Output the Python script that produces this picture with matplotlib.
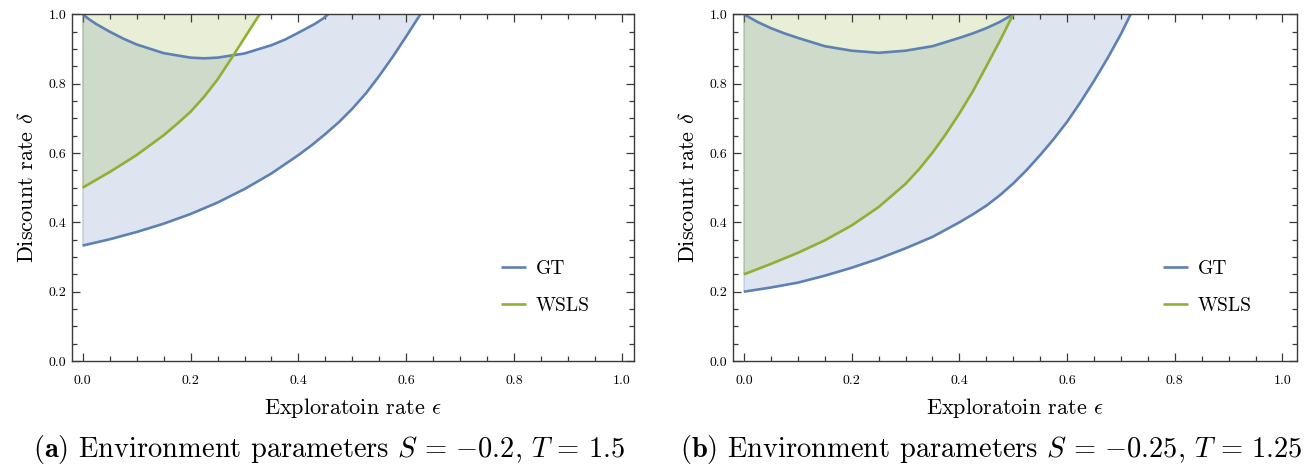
import numpy as np
import matplotlib
matplotlib.use('Agg')
import matplotlib.pyplot as plt
from matplotlib.ticker import MultipleLocator

matplotlib.rcParams.update({
    'font.family': 'cmr10',
    'mathtext.fontset': 'cm',
    'axes.formatter.use_mathtext': True,
    'axes.unicode_minus': False,
})

# panel (a): S=-0.2, T=1.5
eps_gt_lo_a = [0, 0.05, 0.1, 0.15, 0.2, 0.25, 0.3, 0.35, 0.4, 0.425, 0.45, 0.475, 0.5, 0.525, 0.55, 0.575, 0.6, 0.626]
gt_lo_a = [0.333, 0.351, 0.372, 0.396, 0.424, 0.457, 0.496, 0.541, 0.594, 0.623, 0.655, 0.689, 0.728, 0.772, 0.823, 0.878, 0.937, 1.0]
eps_gt_hi_a = [0, 0.0125, 0.025, 0.05, 0.075, 0.1, 0.15, 0.2, 0.225, 0.25, 0.3, 0.35, 0.375, 0.4, 0.43, 0.445, 0.455]
gt_hi_a = [1.0, 0.985, 0.972, 0.95, 0.93, 0.913, 0.888, 0.875, 0.873, 0.875, 0.887, 0.911, 0.927, 0.947, 0.972, 0.987, 1.0]
eps_wsls_a = [0, 0.05, 0.1, 0.15, 0.175, 0.2, 0.225, 0.25, 0.277, 0.3, 0.328]
wsls_a = [0.5, 0.545, 0.594, 0.651, 0.684, 0.719, 0.762, 0.812, 0.876, 0.932, 1.0]

# panel (b): S=-0.25, T=1.25
eps_gt_lo_b = [0, 0.05, 0.1, 0.15, 0.2, 0.25, 0.3, 0.35, 0.4, 0.425, 0.45, 0.475, 0.5, 0.525, 0.55, 0.575, 0.6, 0.625, 0.65, 0.675, 0.7, 0.718]
gt_lo_b = [0.2, 0.212, 0.226, 0.246, 0.269, 0.295, 0.325, 0.358, 0.4, 0.423, 0.448, 0.478, 0.512, 0.551, 0.594, 0.64, 0.69, 0.747, 0.808, 0.873, 0.943, 1.0]
eps_gt_hi_b = [0, 0.0125, 0.025, 0.05, 0.075, 0.1, 0.15, 0.2, 0.25, 0.3, 0.35, 0.4, 0.425, 0.45, 0.475, 0.4875, 0.5]
gt_hi_b = [1.0, 0.989, 0.978, 0.96, 0.945, 0.932, 0.908, 0.895, 0.889, 0.895, 0.908, 0.932, 0.945, 0.96, 0.978, 0.989, 1.0]
eps_wsls_b = [0, 0.05, 0.1, 0.15, 0.2, 0.25, 0.3, 0.325, 0.35, 0.375, 0.4, 0.425, 0.45, 0.475, 0.5]
wsls_b = [0.25, 0.28, 0.312, 0.348, 0.391, 0.444, 0.511, 0.553, 0.601, 0.655, 0.714, 0.778, 0.85, 0.923, 1.0]

captions = [r'$\mathbf{(a)}$ Environment parameters $S\,=\,{-0.2},\,T\,=\,1.5$',
            r'$\mathbf{(b)}$ Environment parameters $S\,=\,{-0.25},\,T\,=\,1.25$']

c_gt = '#5E81B5'
c_ws = '#8FB032'
frame = '#3a3a3a'

fig = plt.figure(figsize=(13.06, 4.68), dpi=100)
W, H = 1306., 468.


def panel(rect, xlim, elo, lo, ehi, hi, ew, w):
    ax = fig.add_axes(rect)
    elo, lo, ehi, hi, ew, w = map(np.asarray, (elo, lo, ehi, hi, ew, w))
    # GT region: between lower curve and arc (top of frame in between)
    ax.fill(np.r_[elo, ehi[::-1]], np.r_[lo, hi[::-1]], color=c_gt, alpha=0.2, lw=0)
    # WSLS region: above the WSLS curve
    ax.fill(np.r_[ew, ew[0]], np.r_[w, w[-1]], color=c_ws, alpha=0.2, lw=0)
    ax.plot([elo[0], elo[0]], [lo[0], hi[0]], color=c_gt, alpha=0.25, lw=1.2)
    ax.plot([ew[0], ew[0]], [w[0], w[-1]], color=c_ws, alpha=0.25, lw=1.2)
    ax.plot(elo, lo, color=c_gt, lw=1.9, label='GT', solid_capstyle='butt')
    ax.plot(ehi, hi, color=c_gt, lw=1.9, solid_capstyle='butt')
    ax.plot(ew, w, color=c_ws, lw=1.9, label='WSLS', solid_capstyle='butt')

    ax.set_xlim(*xlim)
    ax.set_ylim(0, 1)
    ax.xaxis.set_major_locator(MultipleLocator(0.2))
    ax.xaxis.set_minor_locator(MultipleLocator(0.05))
    ax.yaxis.set_major_locator(MultipleLocator(0.2))
    ax.yaxis.set_minor_locator(MultipleLocator(0.05))
    ax.xaxis.set_major_formatter(lambda v, p: f'{v:.1f}')
    ax.yaxis.set_major_formatter(lambda v, p: f'{v:.1f}')
    ax.tick_params(which='both', direction='in', top=True, right=True, color=frame, width=0.9)
    ax.tick_params(which='major', length=6, labelsize=10)
    ax.tick_params(which='minor', length=3.5)
    ax.tick_params(axis='x', pad=10)
    ax.tick_params(axis='y', pad=4)
    for s in ax.spines.values():
        s.set_color(frame)
        s.set_linewidth(1.0)

    ax.set_xlabel(r'Exploratoin rate $\epsilon$', fontsize=16)
    ax.set_ylabel(r'Discount rate $\delta$', fontsize=16)
    ax.xaxis.label.set_va('center')
    ax.yaxis.label.set_va('center')
    ax.xaxis.set_label_coords(0.5, -0.136)
    ax.yaxis.set_label_coords(-0.080, 0.5)

    ax.legend(loc='center left', bbox_to_anchor=(0.763, 0.212), frameon=False,
              fontsize=14, handlelength=1.3, handletextpad=0.5, labelspacing=1.0,
              borderpad=0, borderaxespad=0)
    return ax


bottom = 1 - 361 / H
height = (361 - 14.3) / H
panel([72 / W, bottom, (634 - 72) / W, height], (-0.0198, 1.022),
      eps_gt_lo_a, gt_lo_a, eps_gt_hi_a, gt_hi_a, eps_wsls_a, wsls_a)
panel([732.7 / W, bottom, (1296.5 - 732.7) / W, height], (-0.021, 1.026),
      eps_gt_lo_b, gt_lo_b, eps_gt_hi_b, gt_hi_b, eps_wsls_b, wsls_b)

fig.text(329.5 / W, 1 - 457 / H, captions[0], fontsize=20.5, ha='center', va='baseline')
fig.text(991 / W, 1 - 457 / H, captions[1], fontsize=20.5, ha='center', va='baseline')

fig.savefig('out.png', dpi=100)
